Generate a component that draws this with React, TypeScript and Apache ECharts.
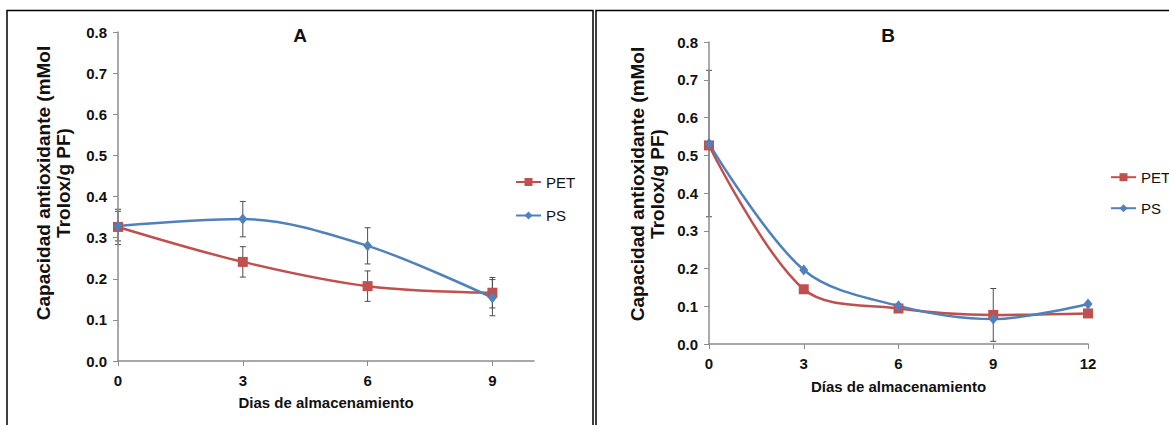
import React, { useEffect, useRef } from "react";
import * as echarts from "echarts";

// ---- Data ----
const daysA = [0, 3, 6, 9];
const petA = [0.326, 0.241, 0.182, 0.166];
const psA = [0.328, 0.345, 0.28, 0.154];
const petErrA = [0.043, 0.037, 0.037, 0.037];
const psErrA = [0.036, 0.043, 0.044, 0.044];

const daysB = [0, 3, 6, 9, 12];
const petB = [0.526, 0.145, 0.094, 0.077, 0.081];
const psB = [0.531, 0.196, 0.101, 0.066, 0.106];
const petErrB = [0, 0, 0, 0.07, 0];
const psErrB = [0.194, 0, 0, 0, 0];

const xTicksA = [0, 3, 6, 9];
const xTicksB = [0, 3, 6, 9, 12];

const titleA = "A";
const titleB = "B";
const yName = "Capacidad antioxidante (mMol\nTrolox/g PF)";
const xNameA = "Dias de almacenamiento";
const xNameB = "Días de almacenamiento";

const PET_COLOR = "#C0504D";
const PS_COLOR = "#4F81BD";
const AXIS_COLOR = "#8c8c8c";
const FONT = "Liberation Sans";

function pairs(xs: number[], ys: number[]) {
  return xs.map((x, i) => [x, ys[i]]);
}
function errData(xs: number[], ys: number[], es: number[]) {
  return xs
    .map((x, i) => [x, ys[i] - es[i], ys[i] + es[i], es[i]])
    .filter((d) => d[3] > 0);
}

function errRender(params: any, api: any) {
  const x = api.value(0);
  const lo = Math.max(0, api.value(1));
  const hi = api.value(2);
  const t = api.coord([x, hi]);
  const b = api.coord([x, lo]);
  const w = 3;
  const st = { stroke: "#4d4d4d", lineWidth: 1 };
  return {
    type: "group",
    children: [
      { type: "line", shape: { x1: t[0], y1: t[1], x2: b[0], y2: b[1] }, style: st },
      { type: "line", shape: { x1: t[0] - w, y1: t[1], x2: t[0] + w, y2: t[1] }, style: st },
      { type: "line", shape: { x1: b[0] - w, y1: b[1], x2: b[0] + w, y2: b[1] }, style: st },
    ],
  };
}

function yAxisCfg(gridIndex: number) {
  return {
    type: "value",
    gridIndex,
    z: 1,
    min: 0,
    max: 0.8,
    interval: 0.1,
    axisLine: { show: true, lineStyle: { color: AXIS_COLOR, width: 1.5 } },
    axisTick: { show: true, length: 5, lineStyle: { color: AXIS_COLOR } },
    splitLine: { show: false },
    axisLabel: {
      margin: 11,
      fontFamily: FONT,
      fontWeight: "bold",
      fontSize: 15,
      color: "#111",
      formatter: (v: number) => v.toFixed(1),
    },
  };
}

function xAxisCfg(gridIndex: number, max: number, ticks: number[], name: string, gap: number) {
  return {
    type: "value",
    gridIndex,
    z: 1,
    min: 0,
    max,
    interval: 3,
    name,
    nameLocation: "middle",
    nameGap: gap,
    nameTextStyle: { fontFamily: FONT, fontWeight: "bold", fontSize: 15, color: "#111" },
    axisLine: { show: true, onZero: false, lineStyle: { color: AXIS_COLOR, width: 1.5 } },
    axisTick: { show: true, length: 5, customValues: ticks, lineStyle: { color: AXIS_COLOR } },
    splitLine: { show: false },
    axisLabel: {
      margin: 12,
      customValues: ticks,
      fontFamily: FONT,
      fontWeight: "bold",
      fontSize: 15,
      color: "#111",
    },
  };
}

function lineSeries(name: string, color: string, symbol: string, size: any, data: any, idx: number) {
  return {
    type: "line",
    name,
    xAxisIndex: idx,
    yAxisIndex: idx,
    data,
    smooth: 0.33,
    symbol,
    symbolSize: size,
    z: 3,
    itemStyle: { color },
    lineStyle: { color, width: 2.5 },
  };
}

function errSeries(data: any, idx: number) {
  return {
    type: "custom",
    xAxisIndex: idx,
    yAxisIndex: idx,
    data,
    renderItem: errRender,
    encode: { x: 0, y: [1, 2] },
    z: 0,
    silent: true,
  };
}

export default function App() {
  const ref = useRef<HTMLDivElement>(null);
  useEffect(() => {
    document.body.style.margin = "0";
    if (!ref.current) return;
    const chart = echarts.init(ref.current, undefined, { renderer: "svg" });
    const legendText = { fontFamily: FONT, fontSize: 15, color: "#111", lineHeight: 14 };
    const option: any = {
      animation: false,
      backgroundColor: "#ffffff",
      grid: [
        { left: 118, top: 32, width: 416, height: 329 },
        { left: 709, top: 42, width: 379, height: 302 },
      ],
      xAxis: [xAxisCfg(0, 10, xTicksA, xNameA, 34), xAxisCfg(1, 12, xTicksB, xNameB, 35)],
      yAxis: [yAxisCfg(0), yAxisCfg(1)],
      legend: [
        {
          data: ["PET", "PS"],
          orient: "vertical",
          left: 510,
          top: 169.5,
          itemWidth: 25,
          itemHeight: 10,
          itemGap: 18.5,
          selectedMode: false,
          textStyle: legendText,
        },
        {
          data: ["PET", "PS"],
          orient: "vertical",
          left: 1105,
          top: 164.7,
          itemWidth: 25,
          itemHeight: 10,
          itemGap: 16,
          selectedMode: false,
          textStyle: legendText,
        },
      ],
      graphic: [
        { type: "rect", shape: { x: 7, y: 10.5, width: 586, height: 440 }, style: { fill: "none", stroke: "#000", lineWidth: 1.5 } },
        { type: "rect", shape: { x: 596, y: 10.5, width: 600, height: 440 }, style: { fill: "none", stroke: "#000", lineWidth: 1.5 } },
        { type: "text", x: 300, y: 35, style: { text: titleA, font: `bold 19px ${FONT}`, fill: "#111", align: "center", verticalAlign: "middle" } },
        { type: "text", x: 888, y: 35, style: { text: titleB, font: `bold 19px ${FONT}`, fill: "#111", align: "center", verticalAlign: "middle" } },
        { type: "text", x: 53.5, y: 183, rotation: Math.PI / 2, style: { text: yName, font: `bold 19px ${FONT}`, lineHeight: 20, fill: "#111", align: "center", verticalAlign: "middle" } },
        { type: "text", x: 647, y: 184, rotation: Math.PI / 2, style: { text: yName, font: `bold 19px ${FONT}`, lineHeight: 20, fill: "#111", align: "center", verticalAlign: "middle" } },
      ],
      series: [
        errSeries(errData(daysA, petA, petErrA), 0),
        errSeries(errData(daysA, psA, psErrA), 0),
        errSeries(errData(daysB, petB, petErrB), 1),
        errSeries(errData(daysB, psB, psErrB), 1),
        lineSeries("PET", PET_COLOR, "rect", 10, pairs(daysA, petA), 0),
        lineSeries("PS", PS_COLOR, "diamond", [9, 11], pairs(daysA, psA), 0),
        lineSeries("PET", PET_COLOR, "rect", 10, pairs(daysB, petB), 1),
        lineSeries("PS", PS_COLOR, "diamond", [9, 11], pairs(daysB, psB), 1),
      ],
    };
    chart.setOption(option);
    return () => chart.dispose();
  }, []);
  return <div ref={ref} style={{ width: 1169, height: 425 }} />;
}
